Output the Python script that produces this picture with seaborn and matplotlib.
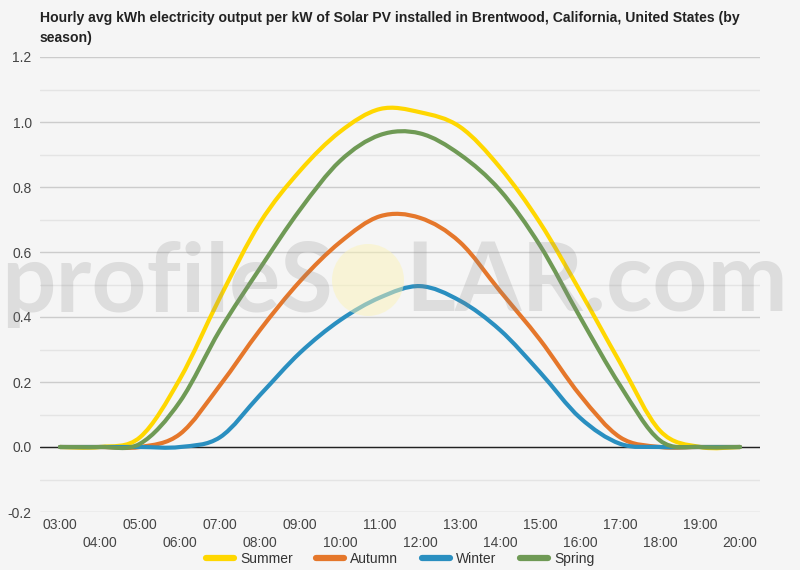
import pandas as pd
import seaborn as sns
import matplotlib.pyplot as plt
import numpy as np
from matplotlib.patches import Circle, PathPatch
from matplotlib.path import Path
from matplotlib.lines import Line2D

hours = ["03:00", "04:00", "05:00", "06:00", "07:00", "08:00", "09:00", "10:00", "11:00",
         "12:00", "13:00", "14:00", "15:00", "16:00", "17:00", "18:00", "19:00", "20:00"]
summer = [0.0, 0.0, 0.03, 0.21, 0.46, 0.69, 0.85, 0.97, 1.04, 1.03, 0.985, 0.86, 0.69, 0.48, 0.26, 0.05, 0.0, 0.0]
autumn = [0.0, 0.0, 0.0, 0.04, 0.19, 0.36, 0.51, 0.63, 0.71, 0.705, 0.63, 0.48, 0.33, 0.16, 0.03, 0.0, 0.0, 0.0]
winter = [0.0, 0.0, 0.0, 0.0, 0.03, 0.16, 0.29, 0.39, 0.46, 0.495, 0.45, 0.36, 0.23, 0.09, 0.01, 0.0, 0.0, 0.0]
spring = [0.0, 0.0, 0.01, 0.14, 0.36, 0.55, 0.73, 0.88, 0.96, 0.965, 0.90, 0.79, 0.62, 0.40, 0.19, 0.02, 0.0, 0.0]

seasons = ["Summer", "Autumn", "Winter", "Spring"]
colors = {"Summer": "#FFD700", "Autumn": "#E5772B", "Winter": "#2A8FC0", "Spring": "#6F9A55"}

series = {"Summer": summer, "Autumn": autumn, "Winter": winter, "Spring": spring}
df = pd.concat([
    pd.DataFrame({"idx": range(len(hours)), "hour": hours, "kwh": vals, "season": name})
    for name, vals in series.items()
])


def smooth_path(xy):
    # catmull-rom through the points as cubic bezier segments (like curveType 'function')
    pts = np.vstack([xy[:1], xy, xy[-1:]])
    verts = [xy[0]]
    codes = [Path.MOVETO]
    for i in range(1, len(pts) - 2):
        p0, p1, p2, p3 = pts[i - 1], pts[i], pts[i + 1], pts[i + 2]
        verts += [p1 + (p2 - p0) / 6, p2 - (p3 - p1) / 6, p2]
        codes += [Path.CURVE4] * 3
    return Path(verts, codes)


sns.set_theme(style="white")
plt.rcParams["font.family"] = ["Liberation Sans", "DejaVu Sans"]
plt.rcParams["axes.unicode_minus"] = False

bg = "#f5f5f5"
fig = plt.figure(figsize=(8, 5.7), dpi=100, facecolor=bg)
ax = fig.add_axes([40 / 800, 1 - 512 / 570, 720 / 800, 455 / 570])
ax.set_facecolor(bg)

sns.lineplot(data=df, x="idx", y="kwh", hue="season", hue_order=seasons,
             palette=colors, linewidth=3, legend=False, ax=ax)

# swap seaborn's straight segments for smooth curves through the same points
for ln in list(ax.lines):
    patch = PathPatch(smooth_path(ln.get_xydata()), facecolor="none",
                      edgecolor=ln.get_color(), lw=3, capstyle="round",
                      joinstyle="round", zorder=3)
    ax.add_patch(patch)
    ln.remove()

ax.set_xlim(-0.5, len(hours) - 0.5)
ax.set_ylim(-0.2, 1.2)

# grid: major every 0.2, lighter minor lines in between
for v in np.arange(-0.2, 1.21, 0.2):
    ax.axhline(v, color="#cccccc", lw=1, zorder=1)
for v in np.arange(-0.1, 1.2, 0.2):
    ax.axhline(v, color="#e4e4e4", lw=1, zorder=1)
ax.axhline(0, color="#222222", lw=1, zorder=2)

for s in ax.spines.values():
    s.set_visible(False)

ax.set_yticks(np.arange(-0.2, 1.21, 0.2))
ax.set_yticklabels([f"{v:.1f}" for v in np.arange(-0.2, 1.21, 0.2)])
ax.tick_params(axis="y", length=0, pad=6, labelsize=10, labelcolor="#444444")

# staggered hour labels
ax.set_xticks(range(0, len(hours), 2), hours[0::2])
ax.set_xticks(range(1, len(hours), 2), hours[1::2], minor=True)
ax.tick_params(axis="x", which="both", length=0, labelsize=10, labelcolor="#444444")
ax.tick_params(axis="x", which="major", pad=4.5)
ax.tick_params(axis="x", which="minor", pad=17.5)
ax.set_xlabel("")
ax.set_ylabel("")

fig.text(40 / 800, 1 - 11 / 570,
         "Hourly avg kWh electricity output per kW of Solar PV installed in Brentwood, California, United States (by\nseason)",
         ha="left", va="top", fontsize=10.1, fontweight="bold", color="#222222", linespacing=1.55)

# watermark
fig.text(333 / 800, 1 - 312 / 570, "profileS", ha="right", va="baseline",
         fontsize=69, fontweight="bold", family="Lato", color="#888888", alpha=0.22, zorder=10)
fig.text(405 / 800, 1 - 312 / 570, "LAR.com", ha="left", va="baseline",
         fontsize=69, fontweight="bold", family="Lato", color="#888888", alpha=0.22, zorder=10)
fig.patches.append(Circle((3.68, (570 - 280) / 100), 0.36, transform=fig.dpi_scale_trans,
                          facecolor="#fbf3b8", edgecolor="none", alpha=0.5, zorder=10))

handles = [Line2D([], [], color=colors[s], lw=4.5) for s in seasons]
fig.legend(handles, seasons, loc="center", bbox_to_anchor=(0.5, 1 - 559 / 570), ncol=4,
           frameon=False, fontsize=10, handlelength=2.0, handletextpad=0.45,
           columnspacing=1.7, labelcolor="#333333")

plt.savefig("out.png", dpi=100, facecolor=bg)
